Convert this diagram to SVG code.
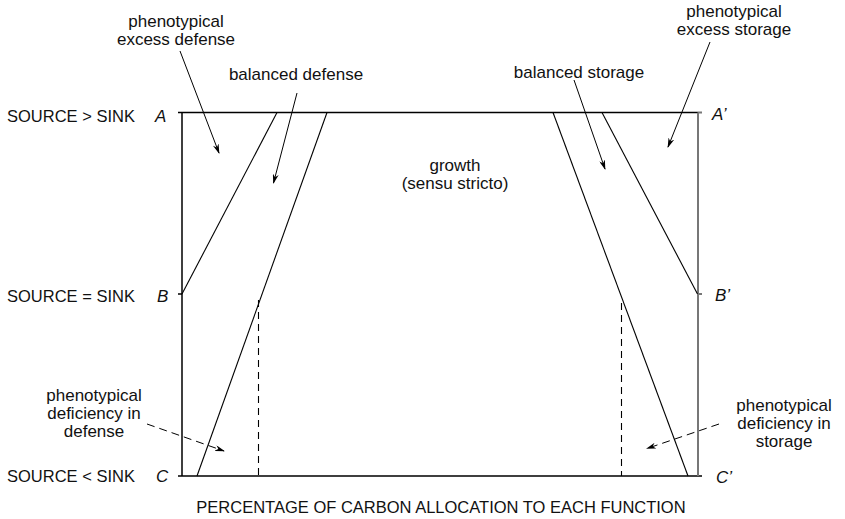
<svg xmlns="http://www.w3.org/2000/svg" width="845" height="519" viewBox="0 0 845 519">
<defs>
<style>
text{font-family:"Liberation Sans",Arial,sans-serif;fill:#111}
.lab{font-size:17px;text-anchor:middle}
.cap{font-size:16.5px}
.let{font-size:17px;font-style:italic}
.frame{stroke:#000;stroke-width:1.5;fill:none}
.gray{stroke:#777;stroke-width:2;fill:none}
.div{stroke:#000;stroke-width:1.1;fill:none}
.dash{stroke:#000;stroke-width:1.1;stroke-dasharray:7,5;fill:none}
.arr{stroke:#000;stroke-width:1;fill:none;marker-end:url(#ah)}
.darr{stroke:#000;stroke-width:1;fill:none;stroke-dasharray:8,5;marker-end:url(#ah)}
</style>
<marker id="ah" viewBox="0 0 10 6" refX="9" refY="3" markerWidth="10" markerHeight="6" markerUnits="userSpaceOnUse" orient="auto">
<path d="M0,0 L10,3 L0,6 L3,3 z" fill="#000"/>
</marker>
</defs>
<rect width="845" height="519" fill="#fff"/>

<g id="frame">
<path class="frame" d="M178,112.5 H698 M182,112.5 V476 M178,294 H182 M178,476 H702"/>
<path class="gray" d="M698,112.5 V476 M698,112.5 H702 M698,294 H702"/>
</g>

<g id="rows">
<text class="cap" x="7" y="122">SOURCE &gt; SINK</text>
<text class="let" x="155" y="122">A</text>
<text class="cap" x="7" y="302">SOURCE = SINK</text>
<text class="let" x="157" y="302">B</text>
<text class="cap" x="7" y="482">SOURCE &lt; SINK</text>
<text class="let" x="156" y="482">C</text>
<text class="let" x="712" y="120">A’</text>
<text class="let" x="715" y="301">B’</text>
<text class="let" x="716" y="483">C’</text>
</g>

<g id="connectors">
<line class="div" x1="182" y1="294" x2="277" y2="112.5"/>
<line class="div" x1="327" y1="112.5" x2="197" y2="476"/>
<line class="div" x1="553" y1="112.5" x2="688" y2="476"/>
<line class="div" x1="602" y1="112.5" x2="697.5" y2="294"/>
<line class="dash" x1="258.5" y1="300" x2="258.5" y2="476"/>
<line class="dash" x1="621.5" y1="303" x2="621.5" y2="476"/>
<line class="arr" x1="180" y1="51" x2="219" y2="153"/>
<line class="arr" x1="297" y1="93" x2="273.5" y2="183"/>
<line class="arr" x1="574" y1="80" x2="605" y2="169"/>
<line class="arr" x1="710" y1="42" x2="668" y2="147"/>
<line class="darr" x1="147" y1="424" x2="224" y2="451"/>
<line class="darr" x1="719" y1="424" x2="647" y2="448.5"/>
</g>

<g id="excess-defense"><text class="lab" x="176" y="26.5">phenotypical</text><text class="lab" x="176" y="44.5">excess defense</text></g>
<g id="balanced-defense"><text class="lab" x="296" y="80">balanced defense</text></g>
<g id="balanced-storage"><text class="lab" x="579" y="78">balanced storage</text></g>
<g id="excess-storage"><text class="lab" x="734" y="17">phenotypical</text><text class="lab" x="734" y="35">excess storage</text></g>
<g id="growth"><text class="lab" x="455" y="171">growth</text><text class="lab" x="455" y="189">(sensu stricto)</text></g>
<g id="deficiency-defense"><text class="lab" x="94" y="400.5">phenotypical</text><text class="lab" x="94" y="418.5">deficiency in</text><text class="lab" x="94" y="436.5">defense</text></g>
<g id="deficiency-storage"><text class="lab" x="784" y="410.5">phenotypical</text><text class="lab" x="784" y="428.5">deficiency in</text><text class="lab" x="784" y="446.5">storage</text></g>
<g id="axis"><text class="cap" x="441" y="513" text-anchor="middle">PERCENTAGE OF CARBON ALLOCATION TO EACH FUNCTION</text></g>
</svg>
